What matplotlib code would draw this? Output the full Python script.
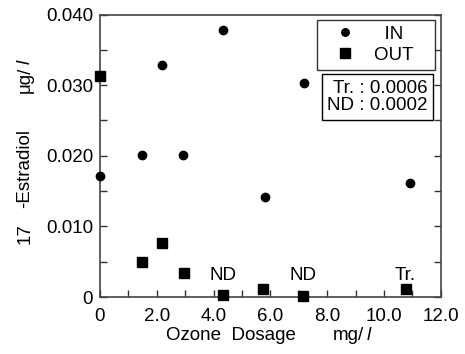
import numpy as np
import matplotlib
matplotlib.use("Agg")
import matplotlib.pyplot as plt
from matplotlib.ticker import MultipleLocator

plt.rcParams['font.family'] = ['Liberation Sans', 'DejaVu Sans']

# ozone dosage (mg/l) and 17-estradiol (ug/l)
in_x = [0, 1.47, 2.17, 2.93, 4.32, 5.8, 7.18, 10.9]
in_y = [0.0172, 0.0201, 0.0329, 0.0201, 0.0378, 0.0141, 0.0303, 0.0161]
out_x = [0, 1.47, 2.2, 2.95, 4.33, 5.74, 7.14, 10.76]
out_y = [0.03125, 0.0050, 0.0077, 0.00345, 0.0003, 0.0011, 0.0002, 0.0011]
notes = [("ND", 4.33), ("ND", 7.14), ("Tr.", 10.76)]
xticks = [0, 2, 4, 6, 8, 10, 12]
xlabels = ["0", "2.0", "4.0", "6.0", "8.0", "10.0", "12.0"]
yticks = [0, 0.01, 0.02, 0.03, 0.04]
ylabels = ["0", "0.010", "0.020", "0.030", "0.040"]

fs = 13.5
fig = plt.figure(figsize=(4.65, 3.54), dpi=100)
ax = fig.add_axes([0.215, 0.161, 0.733, 0.798])

ax.plot(in_x, in_y, 'o', color='black', markersize=6, label='  IN   ', clip_on=False, zorder=5)
ax.plot(out_x, out_y, 's', color='black', markersize=7.5, label='OUT   ', clip_on=False, zorder=5)

for t, x in notes:
    ax.text(x, 0.0030, t, ha='center', va='center', fontsize=fs)

ax.set_xlim(0, 12)
ax.set_ylim(0, 0.040)
ax.set_xticks(xticks)
ax.set_xticklabels(xlabels)
ax.set_yticks(yticks)
ax.set_yticklabels(ylabels)
ax.xaxis.set_minor_locator(MultipleLocator(1))
ax.yaxis.set_minor_locator(MultipleLocator(0.005))
ax.tick_params(which='both', direction='in', labelsize=fs, color='#333333', width=1, length=5)
ax.tick_params(axis='x', which='both', top=False, pad=8)
ax.tick_params(axis='y', which='both', right=True, pad=5)
for s in ax.spines.values():
    s.set_color('#444444')
    s.set_linewidth(1.2)

leg = ax.legend(loc='upper right', bbox_to_anchor=(0.982, 0.982), fontsize=fs,
                frameon=True, fancybox=False, edgecolor='black', borderaxespad=0,
                handletextpad=0.4, borderpad=0.32, labelspacing=0.22, handlelength=2.3,
                markerscale=0.9)
leg.get_frame().set_linewidth(1.0)

ax.text(0.962, 0.708, "Tr. : 0.0006\nND : 0.0002", transform=ax.transAxes,
        ha='right', va='center', fontsize=fs, linespacing=1.0,
        bbox=dict(boxstyle='square,pad=0.3', facecolor='white', edgecolor='black', linewidth=1.0))

fig.text(0.054, 0.34, "17", rotation=90, ha='center', va='center', fontsize=fs)
fig.text(0.054, 0.525, "-Estradiol", rotation=90, ha='center', va='center', fontsize=fs)
fig.text(0.054, 0.775, "\u03bcg/", rotation=90, ha='center', va='center', fontsize=fs)
fig.text(0.054, 0.825, "l", rotation=90, ha='center', va='center', fontsize=fs, style='italic')

fig.text(0.497, 0.051, "Ozone  Dosage", ha='center', va='center', fontsize=fs)
fig.text(0.75, 0.051, "mg/", ha='center', va='center', fontsize=fs)
fig.text(0.794, 0.051, "l", ha='center', va='center', fontsize=fs, style='italic')

fig.savefig("out.png", dpi=100)
